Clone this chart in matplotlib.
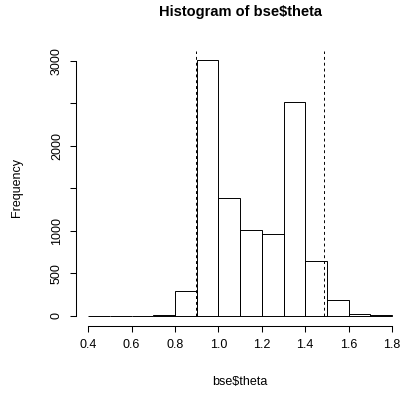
import numpy as np
import matplotlib
matplotlib.use('Agg')
import matplotlib.pyplot as plt

plt.rcParams['font.family'] = ['Liberation Sans', 'DejaVu Sans']

breaks = np.round(np.arange(0.4, 1.81, 0.1), 2)
counts = [3, 3, 0, 10, 294, 3010, 1383, 1014, 964, 2511, 646, 188, 16, 8]
cutoffs = [0.897, 1.487]
xticks = [0.4, 0.6, 0.8, 1.0, 1.2, 1.4, 1.6, 1.8]
yticks = [0, 500, 1000, 1500, 2000, 2500, 3000]
ylabels = ['0', '500', '1000', '', '2000', '', '3000']

fig = plt.figure(figsize=(4.04, 3.94), dpi=100)
ax = fig.add_axes([0.1884, 0.1726, 0.812, 0.7015])

ax.bar(breaks[:-1], counts, width=0.1, align='edge', fill=False,
       edgecolor='black', linewidth=0.7)

ymax = max(counts)
ax.set_xlim(0.4 - 0.04 * 1.4, 1.8 + 0.04 * 1.4)
ax.set_ylim(-0.04 * ymax, 1.04 * ymax)

ax.vlines(cutoffs, 0, 1.035 * ymax, colors='black', linestyles=(0, (3, 3)), linewidth=0.7)

for s in ['top', 'right']:
    ax.spines[s].set_visible(False)
ax.spines['bottom'].set_bounds(0.4, 1.8)
ax.spines['left'].set_bounds(0, 3000)
ax.spines['bottom'].set_linewidth(0.75)
ax.spines['left'].set_linewidth(0.75)

ax.set_xticks(xticks)
ax.set_xticklabels(['{:.1f}'.format(v) for v in xticks])
ax.set_yticks(yticks)
ax.set_yticklabels(ylabels, rotation=90, va='center')
ax.tick_params(length=4.5, width=0.75, labelsize=9, pad=5)

ax.set_xlabel('bse$theta', fontsize=9, labelpad=18)
ax.set_ylabel('Frequency', fontsize=9, labelpad=20)
ax.set_title('Histogram of bse$theta', fontsize=10.5, fontweight='bold', pad=24)

plt.savefig('out.png', dpi=100)
